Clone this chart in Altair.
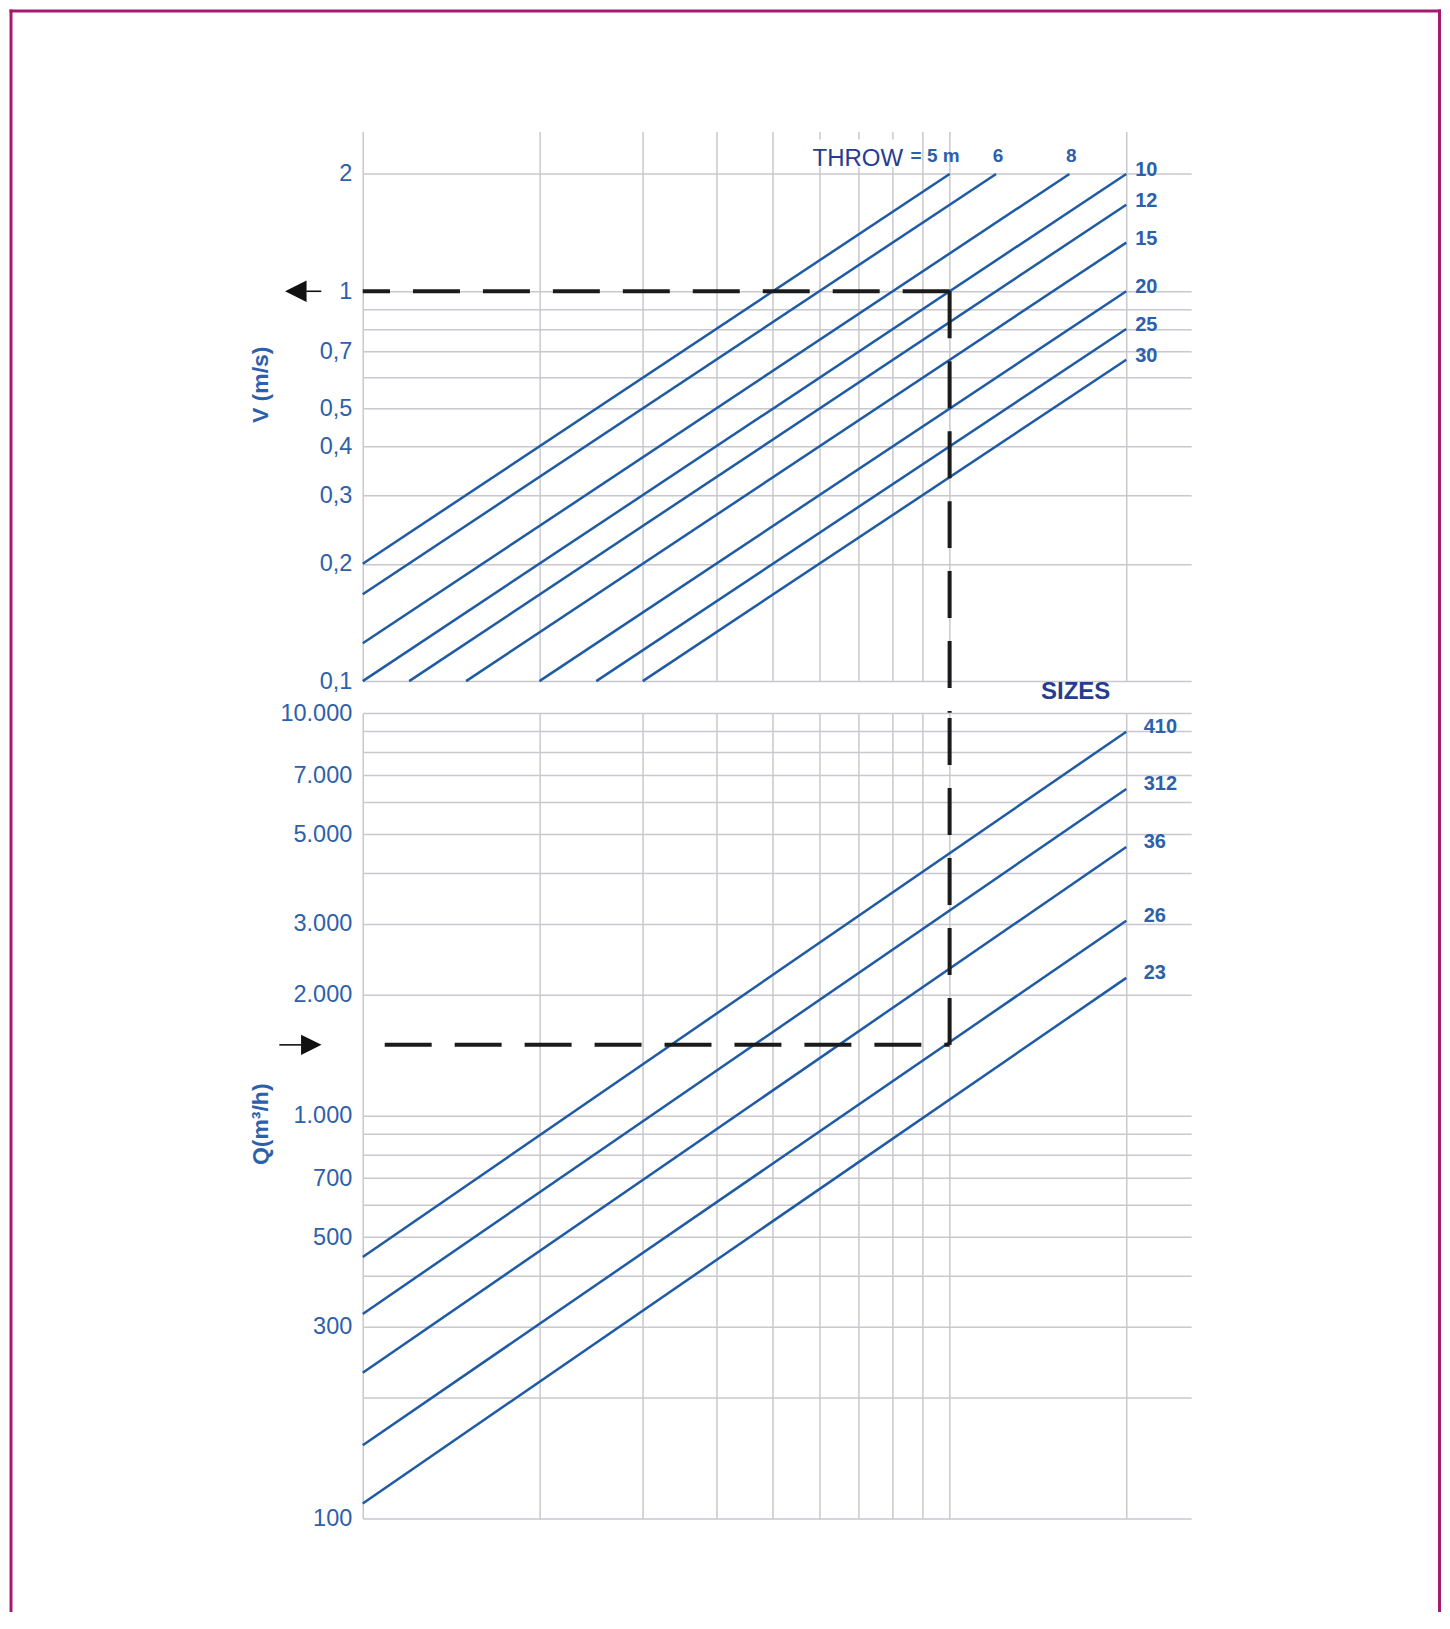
import altair as alt
import pandas as pd

# ---------------- values ----------------
X_GRID = [1, 2, 3, 4, 5, 6, 7, 8, 9, 10, 20]
X_DOMAIN = [1, 25.8]

V_GRID = [0.1, 0.2, 0.3, 0.4, 0.5, 0.6, 0.7, 0.8, 0.9, 1, 2]
V_TICK_VALUES = [2, 1, 0.7, 0.5, 0.4, 0.3, 0.2, 0.1]
V_TICK_TEXT = ["2", "1", "0,7", "0,5", "0,4", "0,3", "0,2", "0,1"]
V_DOMAIN = [0.1, 2.57]

Q_GRID = [100, 200, 300, 400, 500, 600, 700, 800, 900,
          1000, 2000, 3000, 4000, 5000, 6000, 7000, 8000, 9000, 10000]
Q_TICK_VALUES = [10000, 7000, 5000, 3000, 2000, 1000, 700, 500, 300, 100]
Q_TICK_TEXT = ["10.000", "7.000", "5.000", "3.000", "2.000", "1.000",
               "700", "500", "300", "100"]
Q_DOMAIN = [100, 10000]

THROW = [5, 6, 8, 10, 12, 15, 20, 25, 30]
THROW_X_START = [1, 1, 1, 1, 1.2, 1.5, 2, 2.5, 3]
THROW_V_START = [0.2, 0.167, 0.125, 0.1, 0.1, 0.1, 0.1, 0.1, 0.1]
THROW_X_END = [10, 12, 16, 20, 20, 20, 20, 20, 20]
THROW_V_END = [2, 2, 2, 2, 1.667, 1.333, 1, 0.8, 0.667]
THROW_TOP_TEXT = ["= 5 m", "6", "8"]          # labels above the first three lines
THROW_RIGHT_TEXT = ["10", "12", "15", "20", "25", "30"]

SIZES = ["410", "312", "36", "26", "23"]
SIZE_X_START = [1, 1, 1, 1, 1]
SIZE_Q_START = [446, 322, 230, 152, 109]
SIZE_X_END = [20, 20, 20, 20, 20]
SIZE_Q_END = [8990, 6480, 4650, 3050, 2200]

# worked example (dashed path)
EX_X = 10
EX_V = 1
EX_Q = 1500
EX_Q_LINE_START = 1.09

# background box behind the word THROW (data units)
THROW_BOX_X = [5.86, 8.4]
THROW_BOX_V = [2.08, 2.45]

# ---------------- styles / layout ----------------
W = 829
TOP_H = 550
BOT_H = 806
GAP = 32
FONT = "Liberation Sans"
LINE_BLUE = "#1f5ba5"
LABEL_BLUE = "#2d60ab"
NAVY = "#263d8f"
GRID = "#c8c8ce"
DASH_COL = "#1b1b1b"
FRAME_COL = "#a31a70"


def label_expr(values, texts):
    parts = [f"datum.value == {v} ? '{t}'" for v, t in zip(values, texts)]
    return " : ".join(parts) + " : ''"


xs = alt.Scale(type="log", domain=X_DOMAIN, nice=False)
x_axis = alt.Axis(values=X_GRID, grid=True, labels=False, ticks=False,
                  domain=False, gridColor=GRID, gridWidth=1.5)
X = alt.X("x:Q", scale=xs, axis=x_axis, title=None)


def y_axis(grid, tv, tt, title, title_y):
    return alt.Axis(values=grid, grid=True, ticks=False, tickSize=0, domain=False,
                    gridColor=GRID, gridWidth=1.5,
                    labelExpr=label_expr(tv, tt), labelPadding=11,
                    labelOverlap=False, labelFlush=False, labelBound=False,
                    labelFontSize=23.5, labelColor=LABEL_BLUE, labelFont=FONT,
                    title=title, titleX=-102, titleY=title_y, titleAngle=270,
                    titleAlign="center", titleBaseline="middle",
                    titleFontSize=23, titleFontWeight="bold",
                    titleColor=LABEL_BLUE, titleFont=FONT)


YV = alt.Y("V:Q", scale=alt.Scale(type="log", domain=V_DOMAIN, nice=False),
           axis=y_axis(V_GRID, V_TICK_VALUES, V_TICK_TEXT, "V (m/s)", 253))
YQ = alt.Y("Q:Q", scale=alt.Scale(type="log", domain=Q_DOMAIN, nice=False),
           axis=y_axis(Q_GRID, Q_TICK_VALUES, Q_TICK_TEXT, "Q(m³/h)", 411))

# ---------------- tables ----------------
throw_rows = []
for t, x0, v0, x1, v1 in zip(THROW, THROW_X_START, THROW_V_START, THROW_X_END, THROW_V_END):
    throw_rows.append({"T": t, "x": x0, "V": v0})
    throw_rows.append({"T": t, "x": x1, "V": v1})
throw_df = pd.DataFrame(throw_rows)

top_lab_df = pd.DataFrame({"x": THROW_X_END[:3], "V": THROW_V_END[:3], "label": THROW_TOP_TEXT})
right_lab_df = pd.DataFrame({"x": THROW_X_END[3:], "V": THROW_V_END[3:], "label": THROW_RIGHT_TEXT})

size_rows = []
for s, x0, q0, x1, q1 in zip(SIZES, SIZE_X_START, SIZE_Q_START, SIZE_X_END, SIZE_Q_END):
    size_rows.append({"S": s, "x": x0, "Q": q0})
    size_rows.append({"S": s, "x": x1, "Q": q1})
size_df = pd.DataFrame(size_rows)
size_lab_df = pd.DataFrame({"x": SIZE_X_END, "Q": SIZE_Q_END, "label": SIZES})

box_df = pd.DataFrame({"x": [THROW_BOX_X[0]], "x2": [THROW_BOX_X[1]],
                       "V": [THROW_BOX_V[0]], "V2": [THROW_BOX_V[1]]})
ex_top_df = pd.DataFrame({"x": [EX_X], "x2": [X_DOMAIN[0]], "V": [EX_V]})
ex_bot_df = pd.DataFrame({"x": [EX_X], "xs": [EX_Q_LINE_START], "Q": [EX_Q]})
one_df = pd.DataFrame({"k": [0]})

DASH = dict(color=DASH_COL, strokeWidth=4, strokeDash=[47, 23], strokeCap="butt")
LEFT_ARROW = "M -1 0 L 1 -1 L 1 1 Z"
RIGHT_ARROW = "M 1 0 L -1 -1 L -1 1 Z"

# ---------------- top panel ----------------
box = alt.Chart(box_df).mark_rect(color="white").encode(x=X, x2="x2", y=YV, y2="V2")
throw_lines = alt.Chart(throw_df).mark_line(color=LINE_BLUE, strokeWidth=2.5).encode(
    x=X, y=YV, detail="T:N")
throw_word = alt.Chart(top_lab_df.iloc[[0]]).mark_text(
    text="THROW", align="right", baseline="alphabetic", dx=-46.5, dy=-7.6,
    fontSize=24, font=FONT, color=NAVY).encode(x=X, y=YV)
five_lab = alt.Chart(top_lab_df.iloc[[0]]).mark_text(
    align="right", baseline="alphabetic", dx=10, dy=-11.6, fontSize=19,
    fontWeight="bold", font=FONT, color=LABEL_BLUE).encode(x=X, y=YV, text="label:N")
top_labs = alt.Chart(top_lab_df.iloc[1:]).mark_text(
    align="center", baseline="alphabetic", dx=2, dy=-11.6, fontSize=19,
    fontWeight="bold", font=FONT, color=LABEL_BLUE).encode(x=X, y=YV, text="label:N")
right_labs = alt.Chart(right_lab_df).mark_text(
    align="left", baseline="middle", dx=9, dy=-4, fontSize=20,
    fontWeight="bold", font=FONT, color=LABEL_BLUE).encode(x=X, y=YV, text="label:N")
ex_top_h = alt.Chart(ex_top_df).mark_rule(**DASH).encode(x=X, x2="x2", y=YV)
ex_top_v = alt.Chart(ex_top_df).mark_rule(**DASH).encode(
    x=X, y=YV, y2=alt.value(TOP_H + GAP))
top_tail = alt.Chart(ex_top_df).mark_rule(color="#111111", strokeWidth=1.6).encode(
    x=alt.value(-56.5), x2=alt.value(-41.5), y=YV)
top_head = alt.Chart(ex_top_df).mark_point(
    shape=LEFT_ARROW, filled=True, size=462, color="#111111", opacity=1,
    strokeWidth=0).encode(x=alt.value(-67), y=YV)

FR = dict(color=FRAME_COL, strokeWidth=3, strokeCap="square")
frame_l = alt.Chart(one_df).mark_rule(**FR).encode(
    x=alt.value(-352), y=alt.value(-120.5), y2=alt.value(1480))
frame_r = alt.Chart(one_df).mark_rule(**FR).encode(
    x=alt.value(1077.5), y=alt.value(-120.5), y2=alt.value(1480))
frame_t = alt.Chart(one_df).mark_rule(**FR).encode(
    x=alt.value(-352), x2=alt.value(1077.5), y=alt.value(-120.5))

top = alt.layer(
    throw_lines, box, throw_word, five_lab, top_labs, right_labs,
    ex_top_h, ex_top_v, top_tail, top_head, frame_l, frame_r, frame_t
).properties(width=W, height=TOP_H)

# ---------------- bottom panel ----------------
size_lines = alt.Chart(size_df).mark_line(color=LINE_BLUE, strokeWidth=2.5).encode(
    x=X, y=YQ, detail="S:N")
size_labs = alt.Chart(size_lab_df).mark_text(
    align="left", baseline="middle", dx=17.5, dy=-5, fontSize=20,
    fontWeight="bold", font=FONT, color=LABEL_BLUE).encode(x=X, y=YQ, text="label:N")
sizes_word = alt.Chart(size_lab_df.iloc[[0]]).mark_text(
    text="SIZES", align="right", baseline="middle", dx=-16, fontSize=24,
    fontWeight="bold", font=FONT, color=NAVY).encode(x=X, y=alt.value(-21))
ex_bot_h = alt.Chart(ex_bot_df).mark_rule(**DASH).encode(
    x=alt.X("xs:Q", scale=xs, axis=x_axis, title=None), x2="x", y=YQ)
ex_bot_v = alt.Chart(ex_bot_df).mark_rule(**DASH).encode(x=X, y=YQ, y2=alt.value(0))
bot_tail = alt.Chart(ex_bot_df).mark_rule(color="#111111", strokeWidth=1.6).encode(
    x=alt.value(-83.5), x2=alt.value(-61.5), y=YQ)
bot_head = alt.Chart(ex_bot_df).mark_point(
    shape=RIGHT_ARROW, filled=True, size=420, color="#111111", opacity=1,
    strokeWidth=0).encode(x=alt.value(-51.5), y=YQ)

bottom = alt.layer(
    size_lines, size_labs, sizes_word, ex_bot_h, ex_bot_v, bot_tail, bot_head
).properties(width=W, height=BOT_H)

chart = alt.vconcat(top, bottom, spacing=GAP, bounds="flush").resolve_scale(
    x="independent", y="independent"
).properties(padding=0, background="white").configure_view(stroke=None).configure_text(font=FONT)

chart.save("out.html", embed_options={"renderer": "svg", "actions": False})
